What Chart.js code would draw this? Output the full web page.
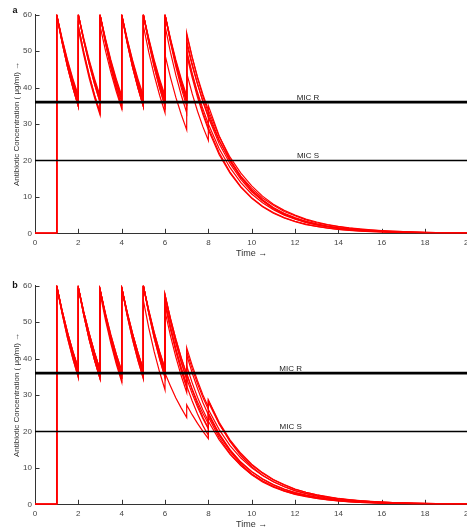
<!DOCTYPE html>
<html>
<head>
<meta charset="utf-8">
<script src="https://cdn.jsdelivr.net/npm/chart.js@4.4.0/dist/chart.umd.min.js"></script>
<style>
  html, body { margin: 0; padding: 0; background: #fff; overflow: hidden; width: 467px; height: 531px; }
  .panel { position: absolute; left: 0; width: 480px; height: 271px; }
  #wrapA { top: 0; }
  #wrapB { top: 271px; }
</style>
</head>
<body>
<div class="panel" id="wrapA"><canvas id="chartA" width="480" height="271"></canvas></div>
<div class="panel" id="wrapB"><canvas id="chartB" width="480" height="271"></canvas></div>
<script>
// time grid (doses at 1..8 have a value before and after the dose)
const timePoints = [0,
  1, 1, 1.25, 1.5, 1.75,
  2, 2, 2.25, 2.5, 2.75,
  3, 3, 3.25, 3.5, 3.75,
  4, 4, 4.25, 4.5, 4.75,
  5, 5, 5.25, 5.5, 5.75,
  6, 6, 6.25, 6.5, 6.75,
  7, 7, 7.25, 7.5, 7.75,
  8, 8,
  8.5, 9, 9.5, 10, 10.5, 11, 11.5, 12, 12.5, 13, 13.5, 14, 14.5, 15, 15.5, 16, 16.5, 17, 17.5, 18, 18.5, 19, 19.5, 20];

const xTickValues = [0, 2, 4, 6, 8, 10, 12, 14, 16, 18, 20];
const yTickValues = [0, 10, 20, 30, 40, 50, 60];

const micValues = [36, 20];
const micNames = ['MIC R', 'MIC S'];

// panel a
const a1 = [0,
  0, 60, 53.2, 47.2, 41.9,
  37.2, 60, 53.2, 47.2, 41.9,
  37.2, 60, 53.2, 47.2, 41.9,
  37.2, 60, 53.2, 47.2, 41.9,
  37.2, 60, 53.2, 47.2, 41.9,
  37.2, 60, 53.2, 47.2, 41.9,
  37.2, 54.5, 48.4, 42.9, 38.1,
  33.8, 33.8,
  26.6, 20.9, 16.5, 13.0, 10.2, 8.0, 6.3, 5.0, 3.9, 3.1, 2.4, 1.9, 1.5, 1.2, 0.94, 0.74, 0.58, 0.46, 0.36, 0.28, 0.22, 0.18, 0.14, 0.11];
const a2 = [0,
  0, 60, 52.8, 46.5, 40.9,
  36, 60, 52.8, 46.5, 40.9,
  36, 60, 52.8, 46.5, 40.9,
  36, 60, 52.8, 46.5, 40.9,
  36, 60, 52.8, 46.5, 40.9,
  36, 60, 52.8, 46.5, 40.9,
  36, 53, 46.6, 41.1, 36.1,
  31.8, 31.8,
  24.6, 19.1, 14.8, 11.4, 8.9, 6.9, 5.3, 4.1, 3.2, 2.5, 1.9, 1.5, 1.15, 0.89, 0.69, 0.53, 0.41, 0.32, 0.25, 0.19, 0.15, 0.12, 0.09, 0.07];
const a3 = [0,
  0, 60, 53.0, 46.9, 41.4,
  36.6, 60, 53.0, 46.9, 41.4,
  36.6, 60, 53.0, 46.9, 41.4,
  36.6, 60, 53.0, 46.9, 41.4,
  36.6, 60, 53.0, 46.9, 41.4,
  36.6, 60, 53.0, 46.9, 41.4,
  36.6, 52, 46.1, 40.9, 36.3,
  32.2, 32.2,
  25.4, 20.0, 15.7, 12.4, 9.7, 7.7, 6.0, 4.8, 3.7, 2.9, 2.3, 1.8, 1.4, 1.1, 0.89, 0.70, 0.55, 0.44, 0.34, 0.27, 0.21, 0.17, 0.13, 0.10];
const a4 = [0,
  0, 60, 52.8, 46.5, 40.9,
  36, 60, 52.8, 46.5, 40.9,
  36, 57, 50.2, 44.2, 38.9,
  34.2, 60, 52.8, 46.5, 40.9,
  36, 60, 52.8, 46.5, 40.9,
  36, 60, 52.8, 46.5, 40.9,
  36, 50, 44.0, 38.7, 34.1,
  30.0, 30.0,
  23.2, 18.0, 13.9, 10.8, 8.4, 6.5, 5.0, 3.9, 3.0, 2.3, 1.8, 1.4, 1.08, 0.84, 0.65, 0.50, 0.39, 0.30, 0.23, 0.18, 0.14, 0.11, 0.08, 0.07];
const a5 = [0,
  0, 60, 52.4, 45.7, 39.9,
  34.8, 57, 49.7, 43.4, 37.9,
  33.1, 60, 52.4, 45.7, 39.9,
  34.8, 60, 52.4, 45.7, 39.9,
  34.8, 60, 52.4, 45.7, 39.9,
  34.8, 57, 49.7, 43.4, 37.9,
  33.1, 49, 42.8, 37.3, 32.6,
  28.4, 28.4,
  21.6, 16.5, 12.6, 9.6, 7.3, 5.5, 4.2, 3.2, 2.4, 1.9, 1.4, 1.1, 0.82, 0.62, 0.47, 0.36, 0.27, 0.21, 0.16, 0.12, 0.09, 0.07, 0.05, 0.04];
const a6 = [0,
  0, 60, 52.4, 45.7, 39.9,
  34.8, 57, 49.7, 43.4, 37.9,
  33.1, 60, 52.4, 45.7, 39.9,
  34.8, 60, 52.4, 45.7, 39.9,
  34.8, 57, 49.7, 43.4, 37.9,
  33.1, 49, 42.8, 37.3, 32.6,
  28.4, 44, 38.4, 33.5, 29.2,
  25.5, 35,
  26.7, 20.3, 15.5, 11.8, 9.0, 6.8, 5.2, 4.0, 3.0, 2.3, 1.75, 1.33, 1.02, 0.77, 0.59, 0.45, 0.34, 0.26, 0.20, 0.15, 0.11, 0.09, 0.07, 0.05];
const a7 = [0,
  0, 60, 53.5, 47.6, 42.4,
  37.8, 60, 53.5, 47.6, 42.4,
  37.8, 60, 53.5, 47.6, 42.4,
  37.8, 60, 53.5, 47.6, 42.4,
  37.8, 60, 53.5, 47.6, 42.4,
  37.8, 60, 53.5, 47.6, 42.4,
  37.8, 55, 48.4, 42.6, 37.5,
  33.0, 33.0,
  25.6, 19.8, 15.3, 11.9, 9.2, 7.1, 5.5, 4.3, 3.3, 2.6, 2.0, 1.5, 1.2, 0.92, 0.72, 0.55, 0.43, 0.33, 0.26, 0.20, 0.15, 0.12, 0.09, 0.07];
const a8 = [0,
  0, 60, 52.4, 45.7, 39.9,
  34.8, 56, 48.9, 42.6, 37.2,
  32.5, 60, 52.4, 45.7, 39.9,
  34.8, 60, 52.4, 45.7, 39.9,
  34.8, 60, 52.4, 45.7, 39.9,
  34.8, 60, 52.4, 45.7, 39.9,
  34.8, 50, 43.6, 38.1, 33.2,
  29.0, 29.0,
  22.1, 16.8, 12.8, 9.8, 7.4, 5.7, 4.3, 3.3, 2.5, 1.9, 1.45, 1.1, 0.84, 0.64, 0.49, 0.37, 0.28, 0.21, 0.16, 0.12, 0.09, 0.07, 0.05, 0.04];

// panel b
const b1 = [0,
  0, 60, 53.2, 47.2, 41.9,
  37.2, 59.5, 52.8, 46.9, 41.6,
  36.9, 59, 52.4, 46.5, 41.2,
  36.6, 59.5, 52.8, 46.9, 41.6,
  36.9, 60, 53.2, 47.2, 41.9,
  37.2, 57.5, 51.0, 45.3, 40.2,
  35.7, 43, 38.2, 33.9, 30.0,
  26.7, 28.6,
  22.5, 17.7, 14.0, 11.0, 8.7, 6.8, 5.4, 4.2, 3.3, 2.6, 2.1, 1.6, 1.3, 1.0, 0.79, 0.62, 0.49, 0.39, 0.30, 0.24, 0.19, 0.15, 0.12, 0.09];
const b2 = [0,
  0, 60, 52.8, 46.5, 40.9,
  36, 59.5, 52.4, 46.1, 40.6,
  35.7, 59, 51.9, 45.7, 40.2,
  35.4, 59.5, 52.4, 46.1, 40.6,
  35.7, 60, 52.8, 46.5, 40.9,
  36, 57, 50.2, 44.2, 38.9,
  34.2, 41, 36.1, 31.8, 27.9,
  24.6, 24.6,
  19.1, 14.8, 11.4, 8.9, 6.9, 5.3, 4.1, 3.2, 2.5, 1.9, 1.5, 1.15, 0.89, 0.69, 0.53, 0.41, 0.32, 0.25, 0.19, 0.15, 0.12, 0.09, 0.07, 0.05];
const b3 = [0,
  0, 60, 52.4, 45.7, 39.9,
  34.8, 59.5, 51.9, 45.3, 39.5,
  34.5, 59, 51.5, 44.9, 39.2,
  34.2, 59.5, 51.9, 45.3, 39.5,
  34.5, 60, 52.4, 45.7, 39.9,
  34.8, 56, 48.9, 42.6, 37.2,
  32.5, 32.5, 28.4, 24.8, 21.6,
  18.9, 25,
  19.0, 14.5, 11.0, 8.4, 6.4, 4.9, 3.7, 2.8, 2.2, 1.6, 1.25, 0.95, 0.73, 0.55, 0.42, 0.32, 0.24, 0.19, 0.14, 0.11, 0.08, 0.06, 0.05, 0.04];
const b4 = [0,
  0, 60, 53.2, 47.2, 41.9,
  37.2, 59.5, 52.8, 46.9, 41.6,
  36.9, 58, 50.6, 44.2, 38.5,
  33.6, 59.5, 52.8, 46.9, 41.6,
  36.9, 60, 53.2, 47.2, 41.9,
  37.2, 57.5, 51.0, 45.3, 40.2,
  35.7, 35.7, 31.7, 28.1, 24.9,
  22.1, 28,
  22.0, 17.4, 13.7, 10.8, 8.5, 6.7, 5.3, 4.1, 3.3, 2.6, 2.0, 1.6, 1.25, 0.98, 0.77, 0.61, 0.48, 0.38, 0.30, 0.23, 0.18, 0.14, 0.11, 0.09];
const b5 = [0,
  0, 60, 52.8, 46.5, 40.9,
  36, 59.5, 51.9, 45.3, 39.5,
  34.5, 59, 51.9, 45.7, 40.2,
  35.4, 59.5, 52.4, 46.1, 40.6,
  35.7, 60, 52.8, 46.5, 40.9,
  36, 55, 48.4, 42.6, 37.5,
  33.0, 38, 33.4, 29.4, 25.9,
  22.8, 22.8,
  17.7, 13.7, 10.6, 8.2, 6.4, 4.9, 3.8, 3.0, 2.3, 1.8, 1.4, 1.06, 0.82, 0.64, 0.49, 0.38, 0.30, 0.23, 0.18, 0.14, 0.11, 0.08, 0.06, 0.05];
const b6 = [0,
  0, 60, 52.8, 46.5, 40.9,
  36, 59.5, 52.4, 46.1, 40.6,
  35.7, 59, 51.9, 45.7, 40.2,
  35.4, 59.5, 52.4, 46.1, 40.6,
  35.7, 56, 48.4, 41.9, 36.3,
  31.4, 55, 48.0, 41.9, 36.6,
  31.9, 36, 31.4, 27.4, 23.9,
  20.9, 24,
  18.3, 13.9, 10.6, 8.1, 6.1, 4.7, 3.6, 2.7, 2.1, 1.6, 1.2, 0.9, 0.69, 0.52, 0.40, 0.30, 0.23, 0.18, 0.13, 0.10, 0.08, 0.06, 0.05, 0.03];
const b7 = [0,
  0, 60, 53.2, 47.2, 41.9,
  37.2, 59.5, 52.8, 46.9, 41.6,
  36.9, 59, 52.4, 46.5, 41.2,
  36.6, 59.5, 52.8, 46.9, 41.6,
  36.9, 60, 52.8, 46.5, 40.9,
  36, 36, 32.5, 29.2, 26.4,
  23.8, 27.3, 24.6, 22.2, 20.0,
  18.0, 25,
  19.4, 15.0, 11.6, 9.0, 7.0, 5.4, 4.2, 3.2, 2.5, 1.9, 1.5, 1.17, 0.90, 0.70, 0.54, 0.42, 0.33, 0.25, 0.20, 0.15, 0.12, 0.09, 0.07, 0.05];
const b8 = [0,
  0, 60, 52.4, 45.7, 39.9,
  34.8, 59.5, 51.9, 45.3, 39.5,
  34.5, 59, 51.5, 44.9, 39.2,
  34.2, 59.5, 51.9, 45.3, 39.5,
  34.5, 60, 52.4, 45.7, 39.9,
  34.8, 53, 46.3, 40.4, 35.2,
  30.7, 42, 37.3, 33.1, 29.3,
  26.0, 26.0,
  20.5, 16.1, 12.7, 10.0, 7.9, 6.2, 4.9, 3.8, 3.0, 2.4, 1.9, 1.5, 1.16, 0.92, 0.72, 0.57, 0.45, 0.35, 0.28, 0.22, 0.17, 0.13, 0.11, 0.08];
const b9 = [0,
  0, 60, 52.8, 46.5, 40.9,
  36, 59.5, 52.4, 46.1, 40.6,
  35.7, 59, 51.9, 45.7, 40.2,
  35.4, 59.5, 52.4, 46.1, 40.6,
  35.7, 60, 52.8, 46.5, 40.9,
  36, 57.5, 50.6, 44.5, 39.2,
  34.5, 34.5, 30.4, 26.7, 23.5,
  20.7, 28.6,
  22.2, 17.2, 13.3, 10.3, 8.0, 6.2, 4.8, 3.7, 2.9, 2.2, 1.7, 1.3, 1.03, 0.80, 0.62, 0.48, 0.37, 0.29, 0.22, 0.17, 0.13, 0.10, 0.08, 0.06];

const linesA = [a1, a2, a3, a4, a5, a6, a7, a8];
const linesB = [b1, b2, b3, b4, b5, b6, b7, b8, b9];

const FONT = '"Liberation Sans", Arial, sans-serif';

// ticks pointing into the plot, matlab style
const inwardTicks = {
  id: 'inwardTicks',
  beforeDatasetsDraw(chart) {
    const { ctx, chartArea, scales: { x, y } } = chart;
    ctx.save();
    ctx.strokeStyle = '#333';
    ctx.lineWidth = 1;
    ctx.beginPath();
    xTickValues.forEach(v => {
      const px = Math.round(x.getPixelForValue(v)) + 0.5;
      ctx.moveTo(px, chartArea.bottom);
      ctx.lineTo(px, chartArea.bottom - 4.5);
    });
    yTickValues.forEach(v => {
      const py = Math.round(y.getPixelForValue(v)) + 0.5;
      ctx.moveTo(chartArea.left, py);
      ctx.lineTo(chartArea.left + 4.5, py);
    });
    ctx.stroke();
    ctx.restore();
  }
};

const panelText = {
  id: 'panelText',
  afterDatasetsDraw(chart, args, opts) {
    const { ctx, scales: { x, y } } = chart;
    ctx.save();
    ctx.fillStyle = '#222';
    ctx.font = '8px ' + FONT;
    ctx.textAlign = 'center';
    ctx.textBaseline = 'alphabetic';
    micValues.forEach((v, i) => {
      ctx.fillText(micNames[i], x.getPixelForValue(opts.labelX), y.getPixelForValue(v) - 2);
    });
    ctx.font = 'bold 9px ' + FONT;
    ctx.fillStyle = '#111';
    ctx.fillText(opts.letter, 15, opts.letterY);
    ctx.restore();
  }
};

function makeChart(id, lines, labelX, letter, letterY) {
  const datasets = [];
  micValues.forEach((v, i) => {
    datasets.push({
      data: [{ x: 0, y: v }, { x: 20, y: v }],
      borderColor: '#000',
      borderWidth: i === 0 ? 2.6 : 1.6,
      pointRadius: 0
    });
  });
  lines.forEach(line => {
    datasets.push({
      data: timePoints.map((t, i) => ({ x: t, y: line[i] })),
      borderColor: '#ff0000',
      borderWidth: 1.2,
      pointRadius: 0,
      tension: 0
    });
  });

  return new Chart(document.getElementById(id), {
    type: 'line',
    data: { datasets },
    options: {
      responsive: false,
      animation: false,
      events: [],
      layout: { padding: { top: 14.7, right: 11.6, bottom: 0, left: 0 } },
      plugins: {
        legend: { display: false },
        tooltip: { enabled: false },
        panelText: { labelX, letter, letterY }
      },
      scales: {
        x: {
          type: 'linear',
          min: 0,
          max: 20,
          afterBuildTicks: s => { s.ticks = xTickValues.map(v => ({ value: v })); },
          afterFit: s => { s.height = 37.7; },
          grid: { display: false, drawTicks: false },
          border: { color: '#333', width: 1 },
          ticks: { autoSkip: false, maxRotation: 0, padding: 5, color: '#444', font: { family: FONT, size: 8 } },
          title: { display: true, text: 'Time →', color: '#333', font: { family: FONT, size: 9 }, padding: { top: 0, bottom: 11.6 } }
        },
        y: {
          type: 'linear',
          min: 0,
          max: 60,
          afterBuildTicks: s => { s.ticks = yTickValues.map(v => ({ value: v })); },
          afterFit: s => { s.width = 35; },
          grid: { display: false, drawTicks: false },
          border: { color: '#333', width: 1 },
          ticks: { padding: 3, color: '#444', font: { family: FONT, size: 8 } },
          title: { display: true, text: 'Antibiotic Concentration ( μg/ml) →', color: '#333', font: { family: FONT, size: 8 }, padding: { top: 11.5, bottom: 0 } }
        }
      }
    },
    plugins: [inwardTicks, panelText]
  });
}

makeChart('chartA', linesA, 12.6, 'a', 12.7);
makeChart('chartB', linesB, 11.8, 'b', 17.3);
</script>
</body>
</html>
